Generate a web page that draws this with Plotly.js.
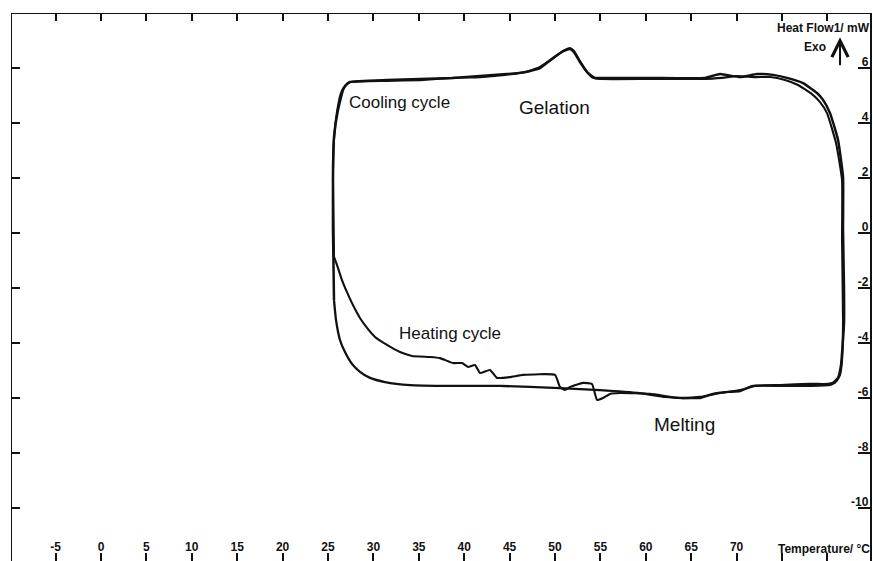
<!DOCTYPE html>
<html><head><meta charset="utf-8">
<script src="https://cdn.plot.ly/plotly-3.0.1.min.js"></script>
<style>html,body{margin:0;padding:0;background:#fff}#chart{width:873px;height:561px}</style>
</head><body><div id="chart"></div>
<script>
// Tick definitions
const xTickVals = [-5,0,5,10,15,20,25,30,35,40,45,50,55,60,65,70,75,80];
const xTickText = ['-5','0','5','10','15','20','25','30','35','40','45','50','55','60','65','70','',''];
const yTickVals = [6,4,2,0,-2,-4,-6,-8,-10];
const yTickText = ['6','4','2','0','-2','-4','-6','-8','-10'];

// Cooling run 1 (Temperature °C, Heat flow mW)
const cool1T  = [80.62,81.17,81.50,81.83,81.83,81.72,81.72,81.17,80.29,79.52,78.85,77.31,75.55,74.01,72.25,70.37,68.17,66.52,60.46,55.29,54.41,53.63,52.75,52.09,51.65,50.99,49.78,48.35,46.70,44.71,41.74,38.77,35.13,31.50,27.42,26.98,26.65,26.10,25.66,25.55,25.55,25.66];
const cool1HF = [-5.45,-5.27,-4.80,-3.27,-2.07,0.11,2.04,3.38,4.36,4.84,5.09,5.45,5.64,5.75,5.78,5.67,5.78,5.64,5.64,5.64,5.64,5.82,6.22,6.58,6.69,6.62,6.36,6.00,5.85,5.78,5.71,5.64,5.60,5.56,5.49,5.38,5.20,4.47,3.49,2.29,0.11,-2.44];

// Heating run 1 (lower, smooth)
const heat1T  = [25.66,25.88,26.32,26.87,27.64,28.52,29.63,31.28,34.03,38.44,43.94,50.55,54.96,59.36,62.11,64.10,65.97,67.40,69.05,70.37,71.81,74.78,78.08,80.07,80.62];
const heat1HF = [-2.44,-3.16,-3.89,-4.33,-4.76,-5.05,-5.27,-5.42,-5.53,-5.56,-5.56,-5.64,-5.71,-5.82,-5.96,-6.00,-6.00,-5.85,-5.78,-5.75,-5.56,-5.53,-5.49,-5.49,-5.45];

// Heating run 2 (upper, with steps)
const heat2T  = [25.66,25.99,26.54,27.09,27.75,28.52,29.30,30.18,31.50,32.93,34.25,36.23,37.33,38.77,39.76,40.42,41.19,41.74,42.84,43.61,45.04,46.48,50.00,50.55,51.10,51.65,53.08,54.07,54.63,55.29,56.06,57.16,60.46,63.77,65.97,68.17,70.37,72.03,74.78,78.08,80.29,80.95];
const heat2HF = [-0.87,-1.16,-1.71,-2.15,-2.62,-3.09,-3.45,-3.78,-4.07,-4.33,-4.47,-4.51,-4.55,-4.73,-4.73,-4.87,-4.80,-5.09,-4.98,-5.27,-5.24,-5.16,-5.16,-5.60,-5.71,-5.60,-5.45,-5.49,-6.07,-6.00,-5.85,-5.82,-5.85,-6.00,-5.96,-5.82,-5.71,-5.56,-5.56,-5.56,-5.53,-5.42];

// Cooling run 2
const cool2T  = [80.95,81.39,81.61,81.72,81.61,81.61,80.95,79.96,79.19,78.30,76.76,75.33,73.68,72.03,70.04,68.39,65.97,60.46,54.96,54.19,53.52,52.75,52.09,51.65,50.88,49.67,48.35,46.70,44.49,41.74,38.77,35.13,31.50,27.42,26.87,26.43,25.99,25.66,25.55,25.66];
const cool2HF = [-5.42,-5.16,-4.62,-3.16,-0.25,1.93,3.27,4.36,4.76,5.05,5.38,5.56,5.67,5.67,5.71,5.64,5.60,5.60,5.60,5.64,5.85,6.25,6.62,6.73,6.62,6.33,6.04,5.85,5.75,5.67,5.64,5.56,5.53,5.49,5.35,5.09,4.40,3.38,1.93,-0.87];

const ink = '#111111';
const lineStyle = w => ({color: ink, width: w, shape: 'spline', smoothing: 0.4});

const traces = [
  {x: cool1T, y: cool1HF, mode: 'lines', line: lineStyle(2.5), hoverinfo: 'skip'},
  {x: heat1T, y: heat1HF, mode: 'lines', line: lineStyle(2.3), hoverinfo: 'skip'},
  {x: heat2T, y: heat2HF, mode: 'lines', line: lineStyle(2.1), hoverinfo: 'skip'},
  {x: cool2T, y: cool2HF, mode: 'lines', line: lineStyle(2.1), hoverinfo: 'skip', xaxis: 'x2', yaxis: 'y2'}
];

const tickFont = {family: 'Liberation Sans, Arial, sans-serif', size: 12, color: ink, weight: 'bold'};
const labelFont = s => ({family: 'Liberation Sans, Arial, sans-serif', size: s, color: ink});
const boldFont = {family: 'Liberation Sans, Arial, sans-serif', size: 12, color: ink, weight: 'bold'};

const layout = {
  width: 873, height: 561,
  margin: {l: 12, r: 3, t: 14, b: 0, pad: 0},
  paper_bgcolor: '#ffffff', plot_bgcolor: '#ffffff',
  showlegend: false,
  xaxis: {
    range: [-9.80, 84.69], tickvals: xTickVals, ticktext: xTickText,
    ticks: 'inside', ticklen: 8, tickwidth: 2, tickcolor: ink,
    ticklabelposition: 'inside', tickfont: tickFont, ticklabelstandoff: -1,
    showline: false, showgrid: false, zeroline: false, fixedrange: true
  },
  xaxis2: {
    overlaying: 'x', matches: 'x', side: 'top', anchor: 'y',
    tickvals: xTickVals, ticks: 'inside', ticklen: 7, tickwidth: 2, tickcolor: ink,
    showticklabels: false, showline: true, linewidth: 1.5, linecolor: ink,
    showgrid: false, zeroline: false
  },
  yaxis: {
    range: [-11.927, 7.964], tickvals: yTickVals,
    ticks: 'inside', ticklen: 8, tickwidth: 2, tickcolor: ink,
    showticklabels: false, showline: true, linewidth: 1.5, linecolor: ink,
    showgrid: false, zeroline: false, fixedrange: true
  },
  yaxis2: {
    overlaying: 'y', matches: 'y', side: 'right', anchor: 'x',
    tickvals: yTickVals, ticktext: yTickText,
    ticks: 'inside', ticklen: 12, tickwidth: 2, tickcolor: ink,
    ticklabelposition: 'inside', ticklabelshift: -6, ticklabelstandoff: -11, tickfont: tickFont,
    showline: true, linewidth: 1.5, linecolor: ink,
    showgrid: false, zeroline: false
  },
  annotations: [
    {text: 'Heat Flow1/ mW', xref: 'paper', x: 1, xanchor: 'right', xshift: 2, yref: 'y', y: 7.47, yanchor: 'middle', showarrow: false, font: boldFont},
    {text: 'Exo', xref: 'x', x: 80.1, xanchor: 'right', yref: 'y', y: 6.78, yanchor: 'middle', showarrow: false, font: boldFont},
    {text: '', xref: 'x', yref: 'y', x: 81.39, y: 7.12, axref: 'x', ayref: 'y', ax: 81.39, ay: 6.05, showarrow: true, arrowhead: 5, arrowsize: 1.6, arrowwidth: 2, arrowcolor: ink},
    {text: 'Temperature/ °C', xref: 'paper', x: 1, xanchor: 'right', xshift: 2, yref: 'y', y: -11.49, yanchor: 'middle', showarrow: false, font: boldFont},
    {text: 'Cooling cycle', xref: 'x', x: 27.1, xanchor: 'left', yref: 'y', y: 4.73, yanchor: 'middle', showarrow: false, font: labelFont(17)},
    {text: 'Gelation', xref: 'x', x: 45.8, xanchor: 'left', yref: 'y', y: 4.58, yanchor: 'middle', showarrow: false, font: labelFont(19)},
    {text: 'Heating cycle', xref: 'x', x: 32.6, xanchor: 'left', yref: 'y', y: -3.67, yanchor: 'middle', showarrow: false, font: labelFont(17)},
    {text: 'Melting', xref: 'x', x: 60.7, xanchor: 'left', yref: 'y', y: -6.95, yanchor: 'middle', showarrow: false, font: labelFont(19)}
  ]
};

Plotly.newPlot('chart', traces, layout, {staticPlot: true, displayModeBar: false});
</script>
</body></html>
